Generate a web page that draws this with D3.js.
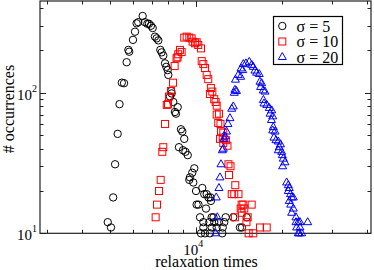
<!DOCTYPE html>
<html><head><meta charset="utf-8">
<script src="https://cdn.jsdelivr.net/npm/d3@7"></script>
<style>html,body{margin:0;padding:0;background:#fff;}svg{display:block;}</style>
</head><body>
<script>
// ---- data (relaxation time, # occurrences) ----
const sigma5X = [4910,5040,5130,5210,5320,5400,5500,5600,5720,5800,5840,6020,6120,6200,6280,6510,6630,6760,6850,6960,7060,7190,7290,7390,7510,7590,7690,7800,7880,7970,8010,8200,8230,8120,8340,8640,8450,8520,8870,8970,9110,8730,9020,9200,9370,9880,9720,9540,9490,9800,10540,10020,10710,10920,11080,11260,11300,10070,10220,10860,10350,11370,11540,12730,13540,15090,10630,11150,11610,12060,12590,10630,11370,11840,12430,14290,14520,10430,11210,12390,10770];
const sigma5Y = [12,11,18,31,51,83,118,117,165,202,196,238,272,312,318,352,318,310,310,300,289,251,244,236,202,194,184,162,153,145,134,103,99,94,86,79,73,71,55,53,47,41,39,38,36,29,27,25,24,23,21,20,19,19,18,18,17,16,16,15,13,13,13,13,13,13,12,12,12,12,12,11,11,11,11,11,11,10,10,10,10];

const sigma10X = [7230,7310,7430,7530,7630,7690,7800,7910,7990,8050,8180,8320,8430,8560,8630,8680,8800,8920,9110,9290,9490,9670,9750,9940,10070,10200,10430,10490,10630,10770,10920,11060,11300,11430,11210,11610,11740,11840,11840,12060,11990,12210,12260,12490,12160,12430,12760,12490,12920,13020,13240,13080,13760,13370,13650,14120,14490,14680,15710,14370,14800,14490,13720,15210,15060,16800,17740,15330,15910];
const sigma10Y = [13,16,20,24,38,41,60,82,83,94,103,118,155,176,179,188,202,195,247,251,247,244,231,225,229,219,207,168,160,150,134,125,108,102,98,90,86,81,70,71,61,60,53,52,47,48,46,44,42,31,30,26,22,19,19,19,16,16,16,15,15,14,13,13,12,11,11,10,10];

const sigma20X = [11740,11900,11800,12060,12160,12260,12390,12490,12590,12660,12820,12970,13180,13370,13540,13650,13890,13720,13780,14100,14370,14410,14610,14680,15000,15410,15710,15910,16130,16360,16700,16800,17030,16890,17250,17490,17270,17350,17740,18110,18470,18220,18620,18430,18710,18620,18970,18810,19120,19480,19830,19630,19480,20020,20120,20280,20560,20180,20840,21120,21290,21120,21500,21700,21290,21990,21530,21990,21700,22470,22890,22470,23210,24700,23210,22590,23080,23530,22890];
const sigma20Y = [10,13,18,21,25,31,39,40,47,49,53,60,66,77,80,100,103,105,124,134,130,149,145,160,162,166,158,153,144,139,136,120,117,110,104,102,89,84,82,78,75,71,68,64,57,54,53,48,46,45,43,41,39,38,36,34,32,30,23,22,21,20,19,18,17,18,16,15,14,13,12,12,12,12,11,11,10,10,10];

const seriesLabels = ["\u03c3 = 5", "\u03c3 = 10", "\u03c3 = 20"];
const xDomain = [2840, 41200];
const yDomain = [10, 450];
const xMajor = [10000];
const xMinor = [3000,4000,5000,6000,7000,8000,9000,20000,30000,40000];
const yMajor = [10, 100];
const yMinor = [20,30,40,50,60,70,80,90,200,300,400];
const xTickLabels = [["10","4"]];
const yTickLabels = [["10","1"],["10","2"]];
const xTitle = "relaxation times";
const yTitle = "# occurrences";

// ---- drawing ----
const W = 374, H = 270;
const L = 40, R = 371, T = 1, B = 233.3;
const svg = d3.select("body").append("svg").attr("width", W).attr("height", H);
const x = d3.scaleLog().domain(xDomain).range([L, R]);
const y = d3.scaleLog().domain(yDomain).range([B, T]);
const font = "'Liberation Serif', 'Times New Roman', serif";
const axisCol = "#222";

// ticks on all four sides, pointing inward
const tg = svg.append("g").attr("stroke", axisCol).attr("stroke-width", 1);
function xt(vals, len) {
  vals.forEach(v => {
    const px = Math.round(x(v)) + 0.5;
    tg.append("line").attr("x1", px).attr("x2", px).attr("y1", B).attr("y2", B - len);
    tg.append("line").attr("x1", px).attr("x2", px).attr("y1", T).attr("y2", T + len);
  });
}
function yt(vals, len) {
  vals.forEach(v => {
    const py = Math.round(y(v)) + 0.5;
    tg.append("line").attr("x1", L).attr("x2", L + len).attr("y1", py).attr("y2", py);
    tg.append("line").attr("x1", R).attr("x2", R - len).attr("y1", py).attr("y2", py);
  });
}
xt(xMajor, 6); xt(xMinor, 3.5); yt(yMajor, 6); yt(yMinor, 3.5);

// frame
svg.append("rect").attr("x", L).attr("y", T).attr("width", R - L).attr("height", B - T)
  .attr("fill", "none").attr("stroke", axisCol).attr("stroke-width", 1.2);

// tick labels (base + superscript in one text element)
function powLabel(px, py, parts, anchor) {
  const t = svg.append("text").attr("x", px).attr("y", py).attr("text-anchor", anchor)
    .attr("font-family", font).attr("font-size", 15).attr("fill", "#000");
  t.append("tspan").text(parts[0]);
  t.append("tspan").attr("font-size", 10).attr("dy", -8).text(parts[1]);
}
yMajor.forEach((v, i) => powLabel(37, y(v) + 7, yTickLabels[i], "end"));
xMajor.forEach((v, i) => powLabel(x(v) + 7.5, 255, xTickLabels[i], "end"));

// axis titles
svg.append("text").attr("x", 206.5).attr("y", 267).attr("text-anchor", "middle")
  .attr("font-family", font).attr("font-size", 16).attr("fill", "#000").text(xTitle);
svg.append("text").attr("transform", "translate(13.5,109) rotate(-90)").attr("text-anchor", "middle")
  .attr("font-family", font).attr("font-size", 16).attr("fill", "#000").text(yTitle);

// markers
const triPath = "M0,-4.5L4,2.5L-4,2.5Z";
const g5 = svg.append("g");
g5.selectAll("circle").data(d3.zip(sigma5X, sigma5Y)).join("circle")
  .attr("cx", d => x(d[0])).attr("cy", d => y(d[1])).attr("r", 3.7)
  .attr("fill", "none").attr("stroke", "#000").attr("stroke-width", 1);
const g10 = svg.append("g");
g10.selectAll("rect").data(d3.zip(sigma10X, sigma10Y)).join("rect")
  .attr("x", d => x(d[0]) - 3.5).attr("y", d => y(d[1]) - 3.5).attr("width", 7).attr("height", 7)
  .attr("fill", "none").attr("stroke", "#ff0000").attr("stroke-width", 1);
const g20 = svg.append("g");
g20.selectAll("path").data(d3.zip(sigma20X, sigma20Y)).join("path")
  .attr("d", triPath).attr("transform", d => `translate(${x(d[0])},${y(d[1])})`)
  .attr("fill", "none").attr("stroke", "#0000ff").attr("stroke-width", 1);

// legend
const lg = svg.append("g");
lg.append("rect").attr("x", 273.5).attr("y", 16.5).attr("width", 69).attr("height", 48)
  .attr("fill", "#fff").attr("stroke", "#000").attr("stroke-width", 1.2);
const rowsY = [26, 41.5, 57];
lg.append("circle").attr("cx", 282.3).attr("cy", rowsY[0]).attr("r", 3.7)
  .attr("fill", "none").attr("stroke", "#000");
lg.append("rect").attr("x", 282.3 - 3.5).attr("y", rowsY[1] - 3.5).attr("width", 7).attr("height", 7)
  .attr("fill", "none").attr("stroke", "#ff0000");
lg.append("path").attr("d", triPath).attr("transform", `translate(282.3,${rowsY[2]})`)
  .attr("fill", "none").attr("stroke", "#0000ff");
const lt = lg.append("text").attr("y", 31.5).attr("font-family", font)
  .attr("font-size", 16).attr("fill", "#000");
seriesLabels.forEach((s, i) => {
  lt.append("tspan").attr("x", 296.5).attr("dy", i === 0 ? 0 : 15.5).text(s);
});
</script>
</body></html>
